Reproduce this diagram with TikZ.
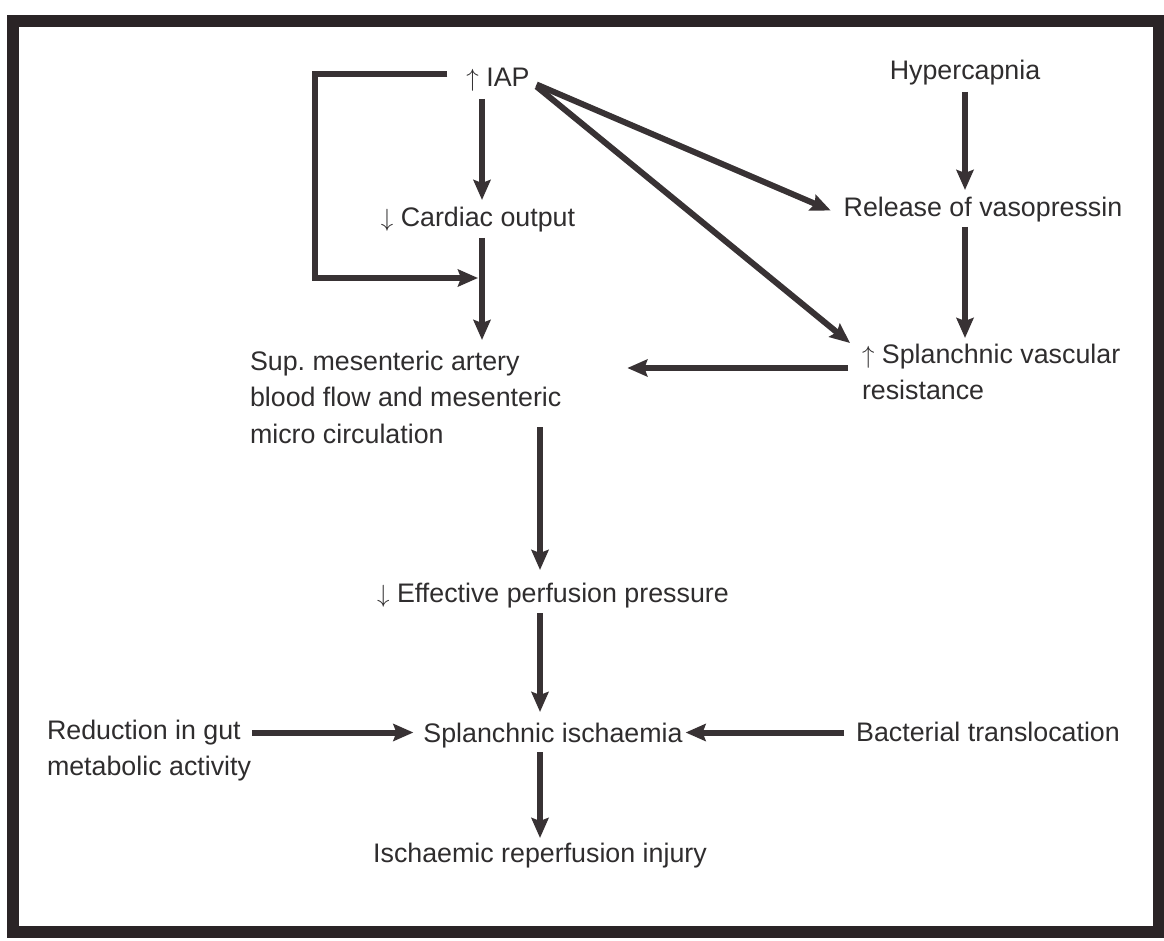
\documentclass[tikz,border=0pt]{standalone}
\usepackage{fontspec}
\setmainfont{Liberation Sans}
\usetikzlibrary{arrows.meta}
\definecolor{ink}{HTML}{2F2D2E}
\definecolor{arrowgray}{HTML}{383234}
\definecolor{framecol}{HTML}{2A2426}
\newcommand{\incr}{$\uparrow$}
\newcommand{\decr}{$\downarrow$}
\tikzset{
  lbl/.style={inner sep=0pt, outer sep=0pt, text=ink,
    font=\fontsize{26.8}{36.5}\selectfont,
    text height=19pt, text depth=6pt, anchor=base},
  mlbl/.style={inner sep=0pt, outer sep=0pt, text=ink,
    font=\fontsize{26.8}{36.5}\selectfont,
    align=left, anchor=north west},
  flow/.style={draw=arrowgray, line width=6pt,
    -{Stealth[length=20pt,width=17pt,inset=3pt]}},
}
\begin{document}
\begin{tikzpicture}[x=1pt,y=-1pt]
\useasboundingbox (0,0) rectangle (1164,941);
\fill[white] (0,0) rectangle (1164,941);
\draw[framecol, line width=12pt] (13,21) rectangle (1159,932);

% labels
\node[lbl] (iap) at (498,87) {\incr\ IAP};
\node[lbl] (co) at (478,227) {\decr\ Cardiac output};
\node[mlbl] (sup) at (250,351) {Sup.\ mesenteric artery\\blood flow and mesenteric\\micro circulation};
\node[lbl] (eff) at (553,602) {\decr\ Effective perfusion pressure};
\node[lbl] (isch) at (553,742) {Splanchnic ischaemia};
\node[lbl] (irp) at (540,862) {Ischaemic reperfusion injury};
\node[lbl] (hyp) at (965,80) {Hypercapnia};
\node[lbl] (rel) at (983,217) {Release of vasopressin};
\node[mlbl] (svr) at (862,344) {\incr\ Splanchnic vascular\\resistance};
\node[mlbl] (red) at (47,720) {Reduction in gut\\metabolic activity};
\node[lbl] (bact) at (988,741) {Bacterial translocation};

% main chain on the left
\draw[flow] ([shift={(-16,6)}]iap.south) -- ([shift={(4,-8)}]co.north);
\draw[flow] ([shift={(4,5)}]co.south) -- ([shift={(232,-11)}]sup.north west);
\coordinate (join) at ([shift={(4,45)}]co.south);
\draw[flow] ([shift={(-19,-6)}]iap.west) -- ++(-132,0) |- ([xshift=-4pt]join);

% right column
\draw[flow] ([shift={(0,6)}]hyp.south) -- ([shift={(-18,-8)}]rel.north);
\draw[flow] ([shift={(-18,4)}]rel.south) -- ([shift={(103,-6)}]svr.north west);
\draw[flow] ([shift={(7,4)}]iap.east) -- ([xshift=-13pt]rel.west);
\draw[flow] ([shift={(7,6)}]iap.east) -- ([shift={(-12,-1)}]svr.north west);
\draw[flow] ([shift={(-14,24)}]svr.north west) -- ([shift={(66,17)}]sup.north east);

% lower chain
\draw[flow] ([shift={(290,76)}]sup.north west) -- ([shift={(-13,-13)}]eff.north);
\draw[flow] ([shift={(-13,5)}]eff.south) -- ([shift={(-13,-11)}]isch.north);
\draw[flow] ([shift={(-13,4)}]isch.south) -- ([shift={(0,-5)}]irp.north);
\draw[flow] ([shift={(205,12.5)}]red.north west) -- ([shift={(-10,-3)}]isch.west);
\draw[flow] ([shift={(-12,-2)}]bact.west) -- ([shift={(3,-3)}]isch.east);
\end{tikzpicture}
\end{document}
